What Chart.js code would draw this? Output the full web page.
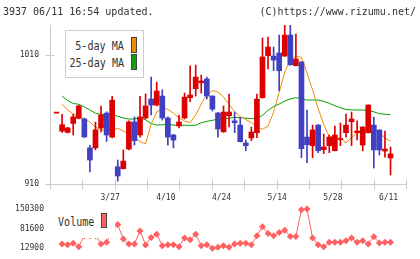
<!DOCTYPE html>
<html><head><meta charset="utf-8">
<script src="https://cdn.jsdelivr.net/npm/chart.js@4.4.1/dist/chart.umd.min.js"></script>
<style>
html,body{margin:0;padding:0;background:#fff;}
#wrap{position:relative;width:420px;height:259px;overflow:hidden;background:#fff;}
canvas{position:absolute;left:0;top:0;}
.t{position:absolute;font-family:"DejaVu Sans Mono",monospace;color:#333;white-space:nowrap;}
.hdr{font-size:10px;line-height:12px;top:6px;}
.lg{font-size:12px;line-height:12px;transform:scaleX(0.84);}
.sw{position:absolute;border:1px solid #444;}
</style></head>
<body><div id="wrap">
<canvas id="cp" width="420" height="259"></canvas>
<canvas id="cv" width="420" height="259"></canvas>
<div class="t hdr" style="left:3px">3937 06/11 16:54 updated.</div>
<div class="t hdr" style="right:4px">(C)https://www.rizumu.net/</div>
<div style="position:absolute;left:65px;top:30px;width:77px;height:46px;border:1px solid #ccc;background:#fff"></div>
<div class="t lg" style="right:296px;top:40px;transform-origin:right center">5-day MA</div>
<div class="sw" style="left:131px;top:37px;width:4px;height:14px;background:#f08c00"></div>
<div class="t lg" style="right:296px;top:57px;transform-origin:right center">25-day MA</div>
<div class="sw" style="left:131px;top:54px;width:4px;height:14px;background:#10a010"></div>
<div style="position:absolute;left:55px;top:205px;width:60px;height:33px;background:#fff"></div>
<div class="t lg" style="left:58px;top:216px;transform-origin:left center">Volume</div>
<div class="sw" style="left:101px;top:213px;width:4px;height:13px;background:#ff6060"></div>
</div>
<script>
const dateLabels = ['3/27','4/10','4/24','5/14','5/28','6/11'];
const dateIndex = [10,20,30,40,50,60];
const priceTicks = [910, 1010];
const volumeTicks = [12900, 81600, 150300];

const open  = [965,951,950,957,961,960.5,938,938,953.4,965,946.4,923.4,921.9,937.1,958.1,948,961.2,975.9,971.2,978.2,961.2,948,955,961.2,976.9,983.9,988.5,991.4,978.2,965,950.5,962.9,959,955.7,941.8,945.7,949.8,976.9,1009.5,1009.2,1011.6,1009.2,1025.5,1001.7,1004.6,946.4,939.7,955.7,936.6,939.7,935.8,944.4,949.8,958.3,949.8,940.2,949.8,955.7,951.9,935.6,930.2];
const high  = [965,964,954,964,971,961,940,958,970.5,966,978,928.6,936.4,959,962,978,979.8,992.9,989,983,962,948.5,963.5,980.5,1001.7,1002.2,994.5,992.9,978.5,965.5,970.5,979.8,965.8,961.4,944.1,954.2,979.8,1023.2,1024,1016.2,1025.5,1033,1033,1026.3,1005,967.4,955.7,956,948.8,948,955,957.3,964.3,965.8,958.9,954.5,971.5,961.9,952,951.1,938.7];
const low   = [965,950,949.5,948,960.5,946,919.3,936.4,950.3,943,945.7,912.3,921.6,936.5,940.2,946.4,960.4,963.5,970.5,959.6,940.2,938,953.4,960.4,973.8,978.2,980.5,975.9,966.6,946.4,950,954.2,949.8,942.6,935.8,943.6,945.9,976.7,999.2,997.8,982.3,1009,1002,1001.5,930.4,926.5,930.4,934.3,933.5,934.3,935.6,939.7,946.4,939.7,944.1,935.6,949.5,922.4,932.5,930.9,917];
const close = [965,956,953.5,962,970.5,946.5,928.6,952,963.5,948,975,916.2,927.8,958.1,943.6,962,970.5,971.2,982.1,961.2,946.4,944.1,958.1,977.4,979,992.9,989.9,978.2,968.1,952.6,965.8,965.8,957.5,942.8,939.7,950.3,975.9,1008.5,1016.2,1006.1,997.8,1025.5,1002.5,1006.9,937.4,940.5,951.9,935.8,938.7,946.4,948,944.9,955.7,960.4,951.1,954.2,971.2,936.4,936.4,937.1,933.3];
const ma5   = [null,971.8,967.4,964.3,962.3,960.4,958.1,954.2,951.9,951.5,951.9,953.2,951.1,948.8,945.7,943,941,956.5,965.8,968.9,967.8,965,961.2,958.9,957.5,963.5,972,979,982.5,981.3,977.4,971.6,966.2,962.3,960,957.7,954.6,952.4,955,965.8,980.9,996.8,1006.1,1009,1008.2,996,982.9,968.7,956.1,946.7,946.2,945.7,941.8,946,949.5,950.5,950.5,952.6,949.5,945.7,943.3];
const ma25  = [null,978.2,974.7,972.4,971.8,969.7,967.4,964.8,964,964,963.9,962.5,961.2,960.4,960.4,961.4,959.8,956.9,955.7,955.9,956.3,955.7,955.5,955.5,955.5,955.5,957.5,958.6,959.4,960.2,960.7,961,961.7,961.5,961,960.7,960.8,963.3,967.1,970.1,972,974.3,976,977,975.9,975.1,975.1,975.1,974.1,972.6,970.7,969.1,967.8,967.4,967.4,967.4,967,966,964.5,964.1,963.7];
const volume = [null,27670,25266,30075,18396,56868,56868,56868,27670,33510,73356,96370,44845,27670,27670,73356,24235,50685,62020,21831,25266,25266,18396,48280,42441,62020,21831,25266,12900,16335,21831,16335,27670,30075,30075,25266,56181,88470,64425,56181,67860,75760,54120,54120,147896,150300,48280,25266,18396,33510,33510,33510,39006,48280,33510,39006,27670,52746,31106,33510,33510];

const xMin = -1.17, xMax = 62.78, xTickDivisions = 11;
const RED = '#dd0000', BLUE = '#4040c0';
const candleColors = close.map((c,i)=> c >= open[i] ? RED : BLUE);
const wickData = high.map((h,i)=>({x:i, y:[low[i], h]}));
const bodyData = open.map((o,i)=>({x:i, y:[o, close[i]]}));
const ma5Data = ma5.map((v,i)=>({x:i, y:v}));
const ma25Data = ma25.map((v,i)=>({x:i, y:v}));
const volData = volume.map((v,i)=>({x:i, y:v}));
const axisFont = {family:'DejaVu Sans Mono', size:8};

const axisDeco = {
  id:'axisDeco',
  afterDraw(chart){
    const {ctx, chartArea:a, scales:{x, y}} = chart;
    ctx.save();
    ctx.strokeStyle = '#cccccc'; ctx.lineWidth = 1;
    ctx.beginPath();
    const L = Math.round(a.left)+0.5, B = Math.round(a.bottom)+0.5;
    ctx.moveTo(L, Math.round(a.top)); ctx.lineTo(L, B);
    ctx.moveTo(L-5, B); ctx.lineTo(Math.round(a.right)+0.5, B);
    priceTicks.forEach(v=>{ const py = Math.round(y.getPixelForValue(v))+0.5; ctx.moveTo(L-5, py); ctx.lineTo(L+4, py); });
    for (let k=0;k<=xTickDivisions;k++){
      const v = xMin + k*(xMax-xMin)/xTickDivisions;
      const px = Math.round(x.getPixelForValue(v))+0.5;
      ctx.moveTo(px, B-5); ctx.lineTo(px, B+5);
    }
    ctx.stroke(); ctx.restore();
  }
};

new Chart(document.getElementById('cp'), {
  type:'bar',
  data:{datasets:[
    {type:'line', data:ma5Data, borderColor:'#f08c00', borderWidth:1, pointRadius:0, tension:0, order:3},
    {type:'line', data:ma25Data, borderColor:'#00a000', borderWidth:1, pointRadius:0, tension:0, order:3},
    {type:'bar', data:wickData, backgroundColor:candleColors, barThickness:1, grouped:false, borderWidth:0, order:2},
    {type:'bar', data:bodyData, backgroundColor:candleColors, barThickness:5, grouped:false, borderWidth:0, minBarLength:1, order:1}
  ]},
  options:{
    responsive:false, animation:false, devicePixelRatio:1, events:[],
    layout:{padding:{left:0, top:25, right:14, bottom:55}},
    plugins:{legend:{display:false}, tooltip:{enabled:false}},
    scales:{
      x:{type:'linear', min:xMin, max:xMax, offset:false,
        afterBuildTicks(s){ s.ticks = dateIndex.map(v=>({value:v})); },
        afterFit(s){ s.height = 20; },
        grid:{display:false, drawTicks:false}, border:{display:false},
        ticks:{callback(v){ const k = dateIndex.indexOf(v); return k>=0 ? dateLabels[k] : ''; },
          font:axisFont, color:'#333', padding:9, maxRotation:0, autoSkip:false, labelOffset:-2}
      },
      y:{type:'linear', min:910, max:1033.3, beginAtZero:false,
        afterBuildTicks(s){ s.ticks = priceTicks.map(v=>({value:v})); },
        afterFit(s){ s.width = 50; },
        grid:{display:false, drawTicks:false}, border:{display:false},
        ticks:{font:axisFont, color:'#333', padding:11, callback:v=>String(v)}
      }
    }
  },
  plugins:[axisDeco]
});

new Chart(document.getElementById('cv'), {
  type:'line',
  data:{datasets:[{data:volData, borderColor:'#ff6060', backgroundColor:'#ff6060', borderWidth:1,
    pointStyle:'rectRot', pointRadius:3.5, pointBorderWidth:0, clip:false, tension:0}]},
  options:{
    responsive:false, animation:false, devicePixelRatio:1, events:[],
    layout:{padding:{left:0, top:209, right:14, bottom:10}},
    plugins:{legend:{display:false}, tooltip:{enabled:false}},
    scales:{
      x:{type:'linear', min:xMin, max:xMax, display:false},
      y:{type:'linear', min:12900, max:150300,
        afterBuildTicks(s){ s.ticks = volumeTicks.map(v=>({value:v})); },
        afterFit(s){ s.width = 50; },
        grid:{display:false, drawTicks:false}, border:{display:false},
        ticks:{font:axisFont, color:'#333', padding:6, callback:v=>String(v)}
      }
    }
  }
});
</script>
</body></html>
